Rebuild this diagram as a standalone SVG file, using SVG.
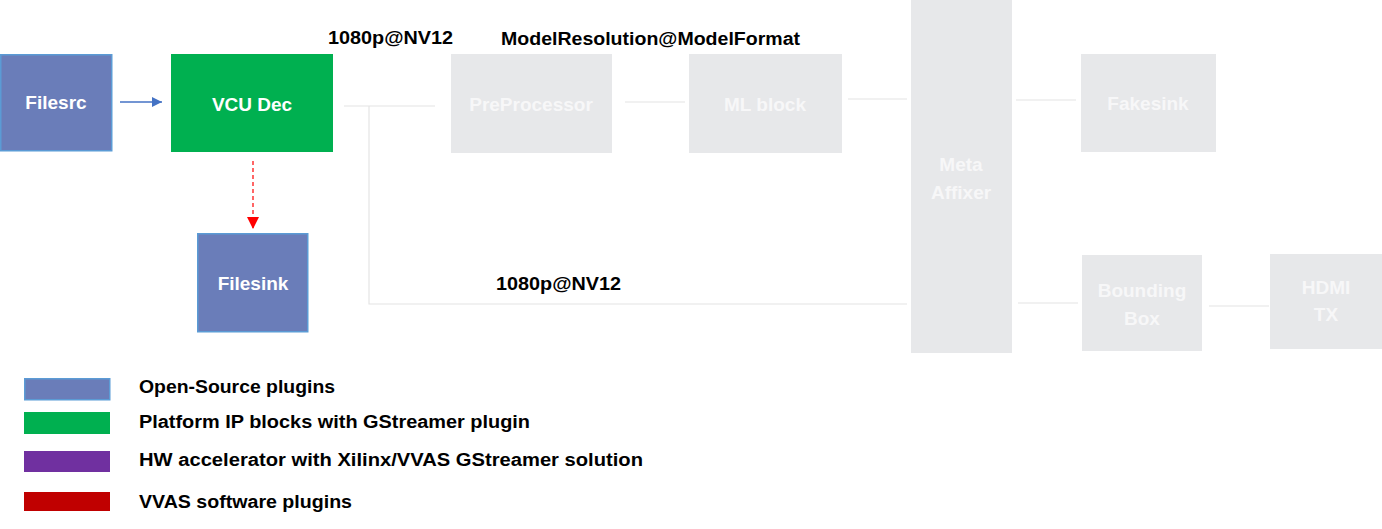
<svg xmlns="http://www.w3.org/2000/svg" width="1382" height="529" viewBox="0 0 1382 529">
<style>
.lbl{font-family:"Liberation Sans",Arial,sans-serif;font-weight:bold;font-size:19px;fill:#ffffff;text-anchor:middle}
.glbl{font-family:"Liberation Sans",Arial,sans-serif;font-weight:bold;font-size:19px;fill:#f7f7f8;text-anchor:middle}
.cap{font-family:"Liberation Sans",Arial,sans-serif;font-weight:bold;font-size:18px;fill:#000000}
.os{fill:#6a7db9;stroke:#5b9bd5;stroke-width:1.5}
.gray{fill:#e7e8ea}
.gl{stroke:#e4e4e4;stroke-width:1.2;fill:none}
</style>
<defs>
<marker id="ab" viewBox="0 0 10 10" refX="10" refY="5" markerWidth="10" markerHeight="10" markerUnits="userSpaceOnUse" orient="auto"><path d="M0,0 L10,5 L0,10 z" fill="#4472c4"/></marker>
<marker id="ar" viewBox="0 0 10 10" refX="10" refY="5" markerWidth="12" markerHeight="12" markerUnits="userSpaceOnUse" orient="auto"><path d="M0,0 L10,5 L0,10 z" fill="#ff0000"/></marker>
</defs>
<rect width="1382" height="529" fill="#ffffff"/>
<g id="connectors">
<line x1="120" y1="102" x2="162" y2="102" stroke="#4472c4" stroke-width="1.5" marker-end="url(#ab)"/>
<line x1="253" y1="161" x2="253" y2="229" stroke="#ff0000" stroke-width="1.2" stroke-dasharray="4,3" marker-end="url(#ar)"/>
<line class="gl" x1="344" y1="106" x2="435" y2="106"/>
<polyline class="gl" points="369,106 369,304 907,304"/>
<line class="gl" x1="625" y1="102" x2="685" y2="102"/>
<line class="gl" x1="848" y1="99" x2="907" y2="99"/>
<line class="gl" x1="1016" y1="100" x2="1076" y2="100"/>
<line class="gl" x1="1018" y1="303" x2="1078" y2="303"/>
<line class="gl" x1="1209" y1="306" x2="1269" y2="306"/>
</g>
<g id="filesrc"><rect class="os" x="0.75" y="54.75" width="111" height="96"/><text class="lbl" x="56" y="109">Filesrc</text></g>
<g id="vcudec"><rect x="171" y="54" width="162" height="98" fill="#00b050"/><text class="lbl" x="252" y="111">VCU Dec</text></g>
<g id="filesink"><rect class="os" x="197.75" y="233.75" width="110" height="98"/><text class="lbl" x="253" y="290">Filesink</text></g>
<g id="preprocessor"><rect class="gray" x="451" y="54" width="161" height="99"/><text class="glbl" x="531" y="111">PreProcessor</text></g>
<g id="mlblock"><rect class="gray" x="689" y="54" width="153" height="99"/><text class="glbl" x="765" y="111">ML block</text></g>
<g id="metaaffixer"><rect class="gray" x="911" y="0" width="101" height="353"/><text class="glbl" x="961" y="171">Meta</text><text class="glbl" x="961" y="199">Affixer</text></g>
<g id="fakesink"><rect class="gray" x="1081" y="54" width="135" height="98"/><text class="glbl" x="1148" y="110">Fakesink</text></g>
<g id="boundingbox"><rect class="gray" x="1082" y="255" width="120" height="96"/><text class="glbl" x="1142" y="297">Bounding</text><text class="glbl" x="1142" y="325">Box</text></g>
<g id="hdmitx"><rect class="gray" x="1270" y="254" width="112" height="95"/><text class="glbl" x="1326" y="294">HDMI</text><text class="glbl" x="1326" y="321">TX</text></g>
<g id="captions">
<text class="cap" x="328" y="44" textLength="125" lengthAdjust="spacingAndGlyphs">1080p@NV12</text>
<text class="cap" x="501" y="45" textLength="299" lengthAdjust="spacingAndGlyphs">ModelResolution@ModelFormat</text>
<text class="cap" x="496" y="290" textLength="125" lengthAdjust="spacingAndGlyphs">1080p@NV12</text>
</g>
<g id="legend">
<rect class="os" x="24.75" y="378.75" width="85" height="21"/>
<rect x="24" y="412" width="86" height="22" fill="#00b050"/>
<rect x="24" y="451" width="86" height="21" fill="#7030a0"/>
<rect x="24" y="492" width="86" height="19" fill="#c00000"/>
<text class="cap" x="139" y="393" textLength="196" lengthAdjust="spacingAndGlyphs">Open-Source plugins</text>
<text class="cap" x="139" y="428" textLength="391" lengthAdjust="spacingAndGlyphs">Platform IP blocks with GStreamer plugin</text>
<text class="cap" x="139" y="466" textLength="504" lengthAdjust="spacingAndGlyphs">HW accelerator with Xilinx/VVAS GStreamer solution</text>
<text class="cap" x="139" y="508" textLength="213" lengthAdjust="spacingAndGlyphs">VVAS software plugins</text>
</g>
</svg>
